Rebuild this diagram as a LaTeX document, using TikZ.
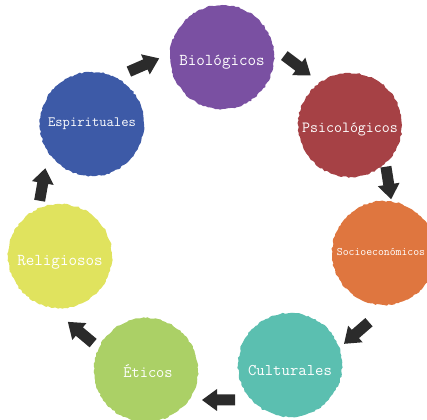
\documentclass[tikz,border=0pt]{standalone}
\usepackage{fontspec}
\usetikzlibrary{decorations.pathmorphing}
\definecolor{cbio}{HTML}{7A50A2}
\definecolor{cpsi}{HTML}{A64145}
\definecolor{csoc}{HTML}{DF763F}
\definecolor{ccul}{HTML}{5BBFB0}
\definecolor{ceti}{HTML}{ABD066}
\definecolor{crel}{HTML}{E0E35E}
\definecolor{cesp}{HTML}{3D5AA7}
\definecolor{carr}{HTML}{2B2B2B}
\tikzset{
  blob/.style={circle, minimum size=104pt, inner sep=0pt, text=white,
    font=\ttfamily\fontsize{16}{18}\selectfont},
  roughfill/.style={decorate, decoration={random steps, segment length=2.5pt, amplitude=0.8pt}},
  blockarrow/.pic={\fill[carr] (-16.5,-5.5) -- (1.5,-5.5) -- (1.5,-11) -- (16.5,0) -- (1.5,11) -- (1.5,5.5) -- (-16.5,5.5) -- cycle;}
}
\begin{document}
\begin{tikzpicture}[x=1pt,y=1pt]
\useasboundingbox (0,0) rectangle (427,419);
% circles
\foreach \n/\x/\y/\c in {bio/222/362/cbio, psi/350/294/cpsi, soc/384/166/csoc, cul/290/54/ccul, eti/146/49/ceti, rel/60/163/crel, esp/92/295/cesp}{
  \fill[\c, roughfill] (\x,\y) circle (52);
}
\node[blob, font=\ttfamily\fontsize{16.6}{18}\selectfont] (bio) at (222,357) {Biológicos};
\node[blob, font=\ttfamily\fontsize{15.5}{18}\selectfont] (psi) at (350,290) {Psicológicos};
\node[blob, font=\ttfamily\fontsize{11.4}{13}\selectfont] (soc) at (381,167) {Socioeconómicos};
\node[blob, font=\ttfamily\fontsize{16.3}{18}\selectfont] (cul) at (290,48) {Culturales};
\node[blob] (eti) at (148,48) {Éticos};
\node[blob, font=\ttfamily\fontsize{16.6}{18}\selectfont] (rel) at (60,157) {Religiosos};
\node[blob, font=\ttfamily\fontsize{14.2}{16}\selectfont] (esp) at (92,295) {Espirituales};
% arrows
\pic[rotate=23.6] (a1) at (144,354) {blockarrow};
\pic[rotate=-37] (a2) at (297.5,353.5) {blockarrow};
\pic[rotate=-81] (a3) at (388.5,236) {blockarrow};
\pic[rotate=-139] (a4) at (356.5,86) {blockarrow};
\pic[rotate=180] (a5) at (218.5,19) {blockarrow};
\pic[rotate=140] (a6) at (80.5,86.5) {blockarrow};
\pic[rotate=80] (a7) at (42.5,234.5) {blockarrow};
\end{tikzpicture}
\end{document}
